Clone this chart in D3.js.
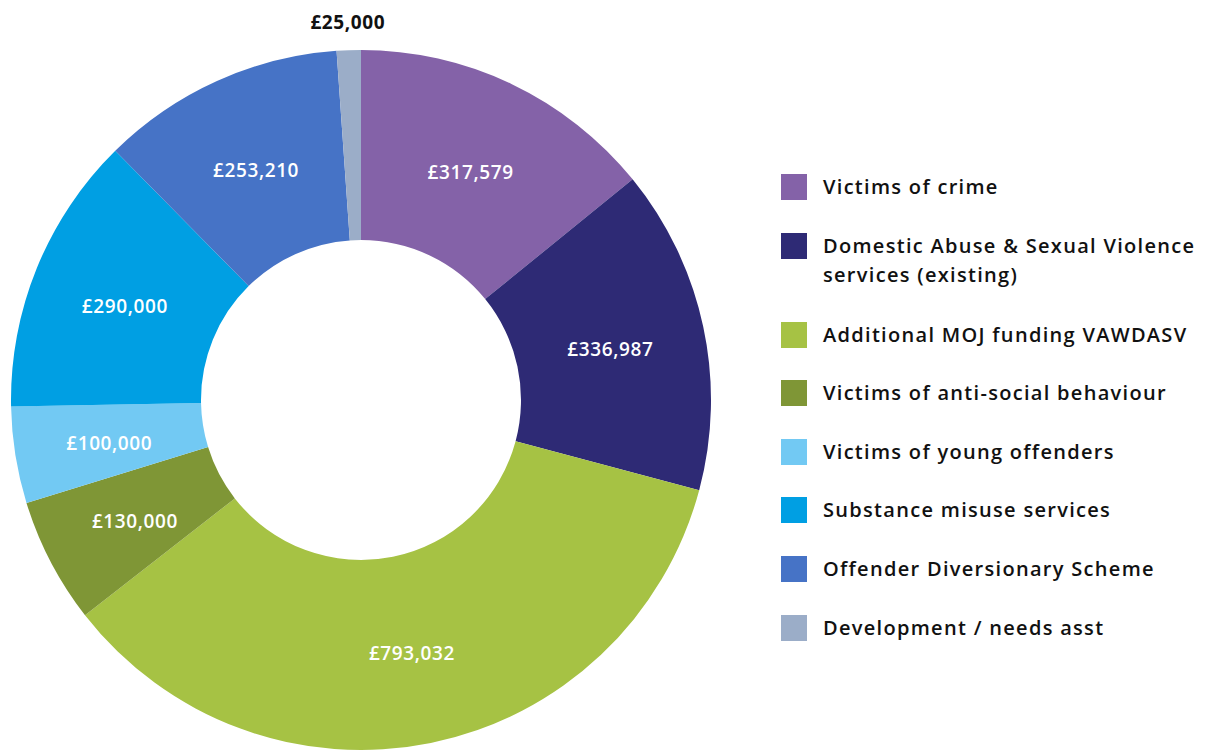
<!DOCTYPE html>
<html>
<head>
<meta charset="utf-8">
<script src="https://cdn.jsdelivr.net/npm/d3@7"></script>
<style>
  body { margin: 0; background: #fff; }
  svg text { font-family: "Open Sans", Lato, sans-serif; }
</style>
</head>
<body>
<svg id="chart" width="1208" height="751"></svg>
<script>
// categories and values
const categories = [
  "Victims of crime",
  "Domestic Abuse & Sexual Violence services (existing)",
  "Additional MOJ funding VAWDASV",
  "Victims of anti-social behaviour",
  "Victims of young offenders",
  "Substance misuse services",
  "Offender Diversionary Scheme",
  "Development / needs asst"
];
const values = [317579, 336987, 793032, 130000, 100000, 290000, 253210, 25000];
const colors = ["#8462a8", "#2e2a75", "#a6c244", "#7f9636", "#72c9f3", "#009fe3", "#4673c6", "#9badc8"];
// legend lines (the long one wraps)
const legendLines = [
  ["Victims of crime"],
  ["Domestic Abuse & Sexual Violence", "services (existing)"],
  ["Additional MOJ funding VAWDASV"],
  ["Victims of anti-social behaviour"],
  ["Victims of young offenders"],
  ["Substance misuse services"],
  ["Offender Diversionary Scheme"],
  ["Development / needs asst"]
];

const svg = d3.select("#chart");
const cx = 361, cy = 400, outerR = 350, innerR = 160;

const data = categories.map((c, i) => ({ name: c, value: values[i], color: colors[i], lines: legendLines[i] }));

const pie = d3.pie().sort(null).value(d => d.value);
const arc = d3.arc().innerRadius(innerR).outerRadius(outerR);
const labelArc = d3.arc().innerRadius(250).outerRadius(260);
const outsideArc = d3.arc().innerRadius(378).outerRadius(378);

const fmt = d => "£" + d3.format(",")(d);

const g = svg.append("g").attr("transform", `translate(${cx},${cy})`);
const arcs = pie(data);

g.selectAll("path")
  .data(arcs)
  .join("path")
  .attr("d", arc)
  .attr("fill", d => d.data.color);

// labels: inside the ring, except the tiny slice which goes outside
g.selectAll("text.val")
  .data(arcs)
  .join("text")
  .attr("class", "val")
  .attr("transform", d => {
    const small = d.endAngle - d.startAngle < 0.2;
    const [x, y] = small ? outsideArc.centroid(d) : labelArc.centroid(d);
    return `translate(${x},${y + (small ? 0 : 3)})`;
  })
  .attr("text-anchor", "middle")
  .attr("dy", "0.35em")
  .attr("font-size", 19)
  .attr("letter-spacing", 0.6)
  .attr("font-weight", d => (d.endAngle - d.startAngle < 0.2 ? 700 : 600))
  .attr("fill", d => (d.endAngle - d.startAngle < 0.2 ? "#111" : "#fff"))
  .text(d => fmt(d.data.value));

// legend
const legend = svg.append("g").attr("transform", "translate(781,0)");
const rowY = [187, 246, 335, 393, 452, 510, 569, 628];

const rows = legend.selectAll("g.row")
  .data(data)
  .join("g")
  .attr("class", "row")
  .attr("transform", (d, i) => `translate(0,${rowY[i]})`);

rows.append("rect")
  .attr("x", 0)
  .attr("y", -13)
  .attr("width", 26)
  .attr("height", 26)
  .attr("fill", d => d.color);

rows.append("text")
  .attr("x", 42)
  .attr("font-size", 20)
  .attr("font-weight", 600)
  .attr("letter-spacing", 1.3)
  .attr("fill", "#111")
  .selectAll("tspan")
  .data(d => d.lines)
  .join("tspan")
  .attr("x", 42)
  .attr("y", (d, i) => i * 29)
  .attr("dy", "0.35em")
  .text(d => d);
</script>
</body>
</html>
